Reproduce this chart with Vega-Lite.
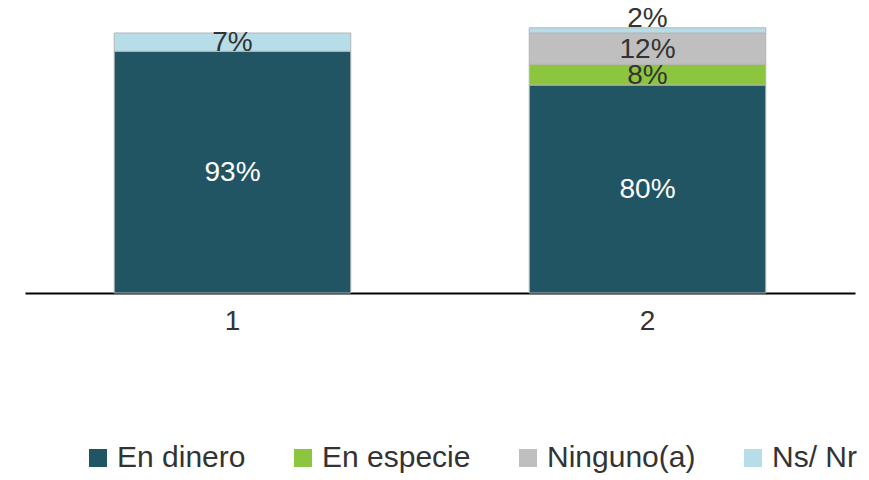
{
  "$schema": "https://vega.github.io/schema/vega-lite/v6.json",
  "autosize": {"type": "none"},
  "width": 830,
  "height": 293,
  "padding": {"left": 25, "top": 0, "right": 14, "bottom": 187},
  "background": "white",
  "config": {"view": {"stroke": null}, "font": "Liberation Sans"},
  "data": {"values": [
    {"grupo": "1", "tipo": "En dinero", "ord": 1, "valor": 93, "etiqueta": "93%"},
    {"grupo": "1", "tipo": "Ns/ Nr", "ord": 4, "valor": 7, "etiqueta": "7%"},
    {"grupo": "2", "tipo": "En dinero", "ord": 1, "valor": 80, "etiqueta": "80%"},
    {"grupo": "2", "tipo": "En especie", "ord": 2, "valor": 8, "etiqueta": "8%"},
    {"grupo": "2", "tipo": "Ninguno(a)", "ord": 3, "valor": 12, "etiqueta": "12%"},
    {"grupo": "2", "tipo": "Ns/ Nr", "ord": 4, "valor": 2, "etiqueta": "2%"}
  ]},
  "transform": [
    {"stack": "valor", "groupby": ["grupo"], "sort": [{"field": "ord", "order": "ascending"}], "as": ["v0", "v1"]},
    {"calculate": "(datum.v0 + datum.v1) / 2", "as": "vm"}
  ],
  "encoding": {
    "x": {"field": "grupo", "type": "nominal", "scale": {"paddingInner": 0.43, "paddingOuter": 0.215},
      "axis": {"title": null, "labelAngle": 0, "ticks": false, "domainColor": "#000", "domainWidth": 2,
        "labelFontSize": 28, "labelColor": "#333", "labelPadding": 14, "labelFont": "Liberation Sans"}}
  },
  "layer": [
    {
      "mark": {"type": "bar", "stroke": "#b5b5b5", "strokeWidth": 1},
      "encoding": {
        "y": {"field": "v0", "type": "quantitative", "scale": {"domain": [0, 112.7], "nice": false}, "axis": null},
        "y2": {"field": "v1"},
        "color": {"field": "tipo", "type": "nominal",
          "scale": {"domain": ["En dinero", "En especie", "Ninguno(a)", "Ns/ Nr"],
                    "range": ["#225564", "#8cc63f", "#bfbfbf", "#b6dde8"]},
          "legend": {"title": null, "orient": "none", "direction": "horizontal", "legendX": 58, "legendY": 443,
            "padding": 0, "symbolType": "square", "symbolSize": 324, "symbolStrokeWidth": 0, "labelFontSize": 30,
            "labelColor": "#333", "labelFont": "Liberation Sans", "labelOffset": 4, "columnPadding": 42,
            "labelLimit": 300}}
      }
    },
    {
      "transform": [{"filter": "!(datum.grupo === '2' && datum.tipo === 'Ns/ Nr')"}],
      "mark": {"type": "text", "fontSize": 28, "baseline": "middle", "align": "center", "dy": 1},
      "encoding": {
        "y": {"field": "vm", "type": "quantitative"},
        "text": {"field": "etiqueta"},
        "color": {"condition": {"test": "datum.tipo === 'En dinero'", "value": "white"}, "value": "#333333"}
      }
    },
    {
      "transform": [{"filter": "datum.grupo === '2' && datum.tipo === 'Ns/ Nr'"}],
      "mark": {"type": "text", "fontSize": 28, "baseline": "middle", "align": "center", "dy": -11, "color": "#333333"},
      "encoding": {
        "y": {"field": "vm", "type": "quantitative"},
        "text": {"field": "etiqueta"}
      }
    }
  ]
}
